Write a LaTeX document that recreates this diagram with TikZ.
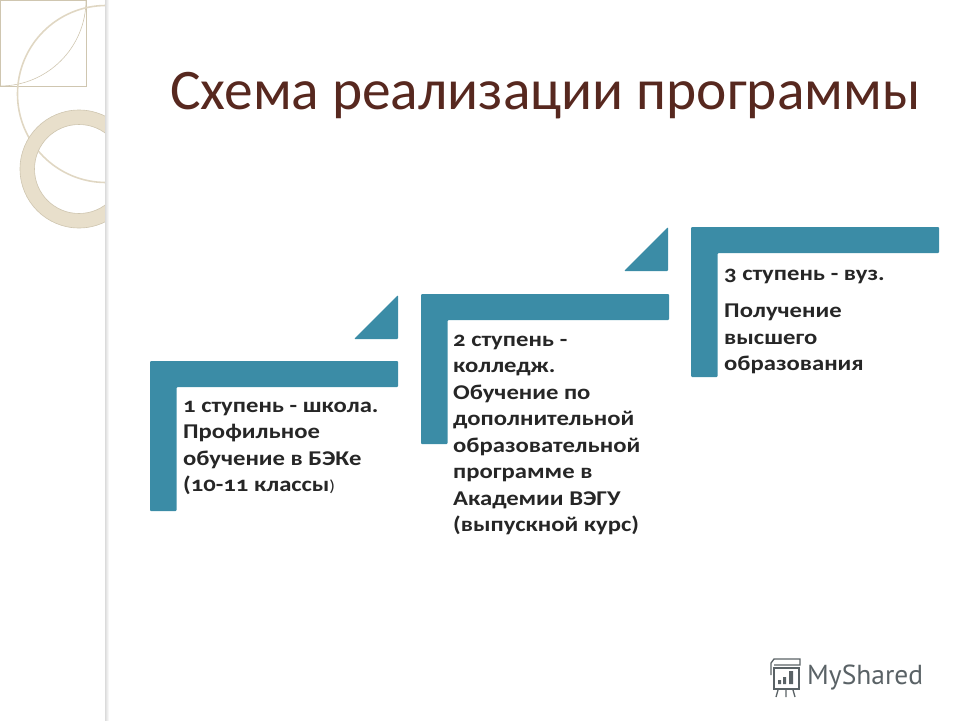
\documentclass[tikz,border=0pt]{standalone}
\usepackage{fontspec}
\setmainfont[Numbers=OldStyle]{Carlito}
\newfontfamily\bodyfont[Numbers=OldStyle,FakeStretch=1.175]{Carlito}
\newfontfamily\logofont{PT Sans}
\usetikzlibrary{positioning}
\definecolor{stepblue}{HTML}{3B8CA6}
\definecolor{titlebrown}{HTML}{57281F}
\definecolor{ringbeige}{HTML}{E8DFCB}
\definecolor{ringline}{HTML}{CFC6B0}
\definecolor{logogray}{HTML}{5A6266}

\tikzset{
  stepshape/.style={fill=stepblue,draw=none,rounded corners=1pt},
  steptext/.style={anchor=north west,inner sep=0pt,align=left,text=black!85,
    font=\bodyfont\fontsize{21}{26.4}\selectfont\bfseries},
  thinline/.style={draw=ringline,line width=0.6pt},
}

\begin{document}
\begin{tikzpicture}[x=1pt,y=-1pt]

  \useasboundingbox (0,0) rectangle (960,720);

  % corner decoration
  \begin{scope}
    \clip (0,0) rectangle (106,720);
    \draw[thinline] (0,0) rectangle (86,86);
    \draw[thinline] (86,0) arc[start angle=0,end angle=90,radius=86pt,y radius=-86pt];
    \draw[draw=ringbeige!70!ringline,line width=1.6pt] (106,94) circle (88.5);
    \fill[ringbeige,even odd rule] (79,169) circle (59) (79,169) circle (44.5);
    \draw[thinline] (79,169) circle (59) (79,169) circle (44.5);
  \end{scope}
  \shade[left color=black!14,right color=white] (105,0) rectangle (109,720);

  % title
  \node[anchor=base west,inner sep=0pt,text=titlebrown,font=\fontsize{57.4}{60}\selectfont] (title) at (170,109) {Схема реализации программы};

  % steps
  \foreach \x/\y in {150/361,421/294,691/227} {
    \fill[stepshape] (\x,\y) -- ++(248,0) -- ++(0,26) -- ++(-221.5,0) -- ++(0,124) -- ++(-26.5,0) -- cycle;
  }
  \foreach \x/\y in {354/339,624/271} {
    \fill[stepshape] (\x,\y) -- ++(44,-44) -- ++(0,44) -- cycle;
  }

  \node[steptext] (step1) at (183,401) {1 ступень - школа.\\Профильное\\обучение в БЭКе\\(10-11 классы{\mdseries\footnotesize\fontsize{16}{20}\selectfont)}};
  \node[steptext] (step2) at (453,335) {2 ступень -\\колледж.\\Обучение по\\дополнительной\\образовательной\\программе в\\Академии ВЭГУ\\(выпускной курс)};
  \node[steptext] (step3) at (724,269) {3 ступень - вуз.};
  \node[steptext,below=20pt of step3.south west,anchor=north west] (step3b) {Получение\\высшего\\образования};

  % logo
  \node[anchor=base west,inner sep=0pt,text=logogray,font=\logofont\fontsize{27.5}{30}\selectfont] (logo) at (807,684) {MyShared};
  \begin{scope}[draw=logogray,line width=1.3pt]
    \draw (774,668) rectangle (799,689);
    \draw (771,675) -- (771,663) -- (774,659) -- (800,659) -- (800,665) -- (774,665);
    \draw (778,690) -- (776,697) (786,690) -- (786,697) (793,690) -- (795,697);
    \fill[logogray] (778,680) rectangle (781,684) (783,677) rectangle (786,684) (789,671) rectangle (793,684);
  \end{scope}

\end{tikzpicture}
\end{document}
